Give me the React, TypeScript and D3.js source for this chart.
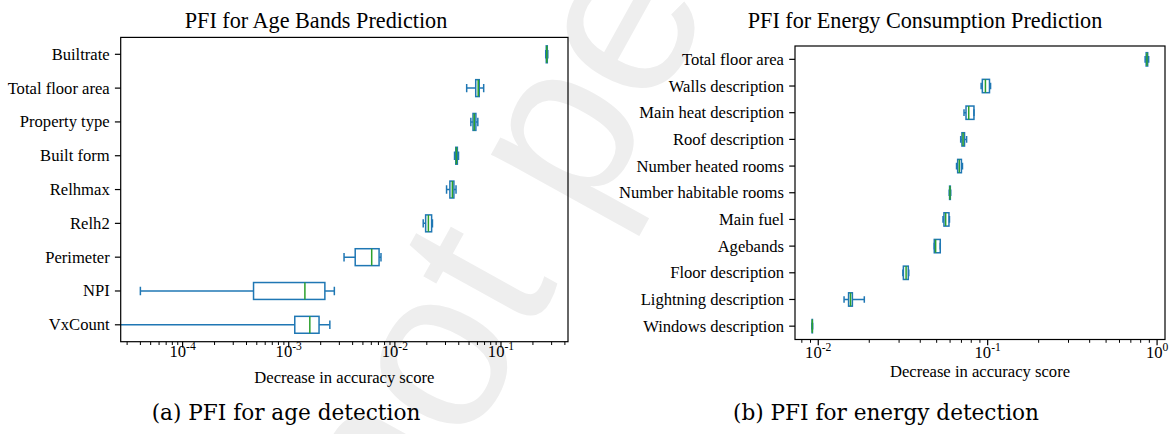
import { useEffect, useRef } from "react";
import * as d3 from "d3";

const WIDTH = 1170;
const HEIGHT = 434;
const BOX_COLOR = "#1f77b4";
const MEDIAN_COLOR = "#2ca02c";
const SERIF = "'Liberation Serif', 'Times New Roman', serif";

// (a) age bands: box stats per feature (low whisker, q1, median, q3, high whisker)
const AGE_FEATURES = ["Builtrate", "Total floor area", "Property type", "Built form", "Relhmax", "Relh2", "Perimeter", "NPI", "VxCount"];
const AGE_LOW = [0.264, 0.0475, 0.052, 0.0365, 0.0307, 0.0185, 0.00332, 0.00004, 0.000001];
const AGE_Q1 = [0.267, 0.0578, 0.0545, 0.0375, 0.033, 0.0195, 0.00423, 0.000466, 0.00114];
const AGE_MED = [0.27, 0.061, 0.056, 0.038, 0.0348, 0.0207, 0.00605, 0.00142, 0.00158];
const AGE_Q3 = [0.273, 0.0624, 0.058, 0.0388, 0.036, 0.0222, 0.0071, 0.00219, 0.00193];
const AGE_HIGH = [0.276, 0.0687, 0.0605, 0.0398, 0.0377, 0.0226, 0.0074, 0.00269, 0.00244];
const AGE_DOMAIN = [2.61e-5, 0.428];

// (b) energy consumption
const ENERGY_FEATURES = [
  "Total floor area", "Walls description", "Main heat description", "Roof description",
  "Number heated rooms", "Number habitable rooms", "Main fuel", "Agebands",
  "Floor description", "Lightning description", "Windows description",
];
const ENERGY_LOW = [0.85, 0.0915, 0.0725, 0.0693, 0.0655, 0.0593, 0.0545, 0.0484, 0.0316, 0.0142, 0.00918];
const ENERGY_Q1 = [0.862, 0.093, 0.0745, 0.0705, 0.0665, 0.0596, 0.0552, 0.0484, 0.0318, 0.0151, 0.0092];
const ENERGY_MED = [0.871, 0.097, 0.0773, 0.0716, 0.068, 0.0599, 0.0565, 0.0493, 0.033, 0.0155, 0.00922];
const ENERGY_Q3 = [0.88, 0.1025, 0.083, 0.073, 0.07, 0.0602, 0.0591, 0.0525, 0.034, 0.0159, 0.00924];
const ENERGY_HIGH = [0.892, 0.104, 0.083, 0.0751, 0.071, 0.0605, 0.0595, 0.0525, 0.0342, 0.0187, 0.00926];
const ENERGY_DOMAIN = [0.00729, 1.1136];

interface Panel {
  id: string;
  title: string;
  caption: string;
  features: string[];
  low: number[];
  q1: number[];
  med: number[];
  q3: number[];
  high: number[];
  domain: number[];
  left: number;
  right: number;
  top: number;
  bottom: number;
  titleX: number;
  tickLabelY: number;
  xlabelY: number;
  captionX: number;
}

const PANELS: Panel[] = [
  {
    id: "a", title: "PFI for Age Bands Prediction", caption: "(a) PFI for age detection",
    features: AGE_FEATURES, low: AGE_LOW, q1: AGE_Q1, med: AGE_MED, q3: AGE_Q3, high: AGE_HIGH,
    domain: AGE_DOMAIN,
    left: 120.7, right: 568, top: 37.4, bottom: 341.7,
    titleX: 316, tickLabelY: 357, xlabelY: 383, captionX: 286,
  },
  {
    id: "b", title: "PFI for Energy Consumption Prediction", caption: "(b) PFI for energy detection",
    features: ENERGY_FEATURES, low: ENERGY_LOW, q1: ENERGY_Q1, med: ENERGY_MED, q3: ENERGY_Q3, high: ENERGY_HIGH,
    domain: ENERGY_DOMAIN,
    left: 795, right: 1165, top: 46, bottom: 339.5,
    titleX: 925, tickLabelY: 358, xlabelY: 377, captionX: 886,
  },
];

function drawPanel(svg: d3.Selection<SVGSVGElement, unknown, null, undefined>, p: Panel) {
  const x = d3.scaleLog().domain(p.domain).range([p.left, p.right]);
  const y = d3.scalePoint().domain(p.features).range([p.top, p.bottom]).padding(0.5);
  const step = y.step();
  const boxH = step * 0.5;
  const capH = step * 0.25;

  svg.append("clipPath").attr("id", `clip-${p.id}`)
    .append("rect")
    .attr("x", p.left).attr("y", p.top)
    .attr("width", p.right - p.left).attr("height", p.bottom - p.top);

  const g = svg.append("g").attr("clip-path", `url(#clip-${p.id})`);
  const rows = p.features.map((f, i) => ({
    f, low: p.low[i], q1: p.q1[i], med: p.med[i], q3: p.q3[i], high: p.high[i],
  }));

  const row = g.selectAll("g").data(rows).join("g")
    .attr("transform", (d) => `translate(0,${y(d.f)})`);

  // whiskers
  row.append("line")
    .attr("x1", (d) => x(d.low)).attr("x2", (d) => x(d.q1))
    .attr("stroke", BOX_COLOR).attr("stroke-width", 1.5);
  row.append("line")
    .attr("x1", (d) => x(d.q3)).attr("x2", (d) => x(d.high))
    .attr("stroke", BOX_COLOR).attr("stroke-width", 1.5);
  // caps
  row.append("line")
    .attr("x1", (d) => x(d.low)).attr("x2", (d) => x(d.low))
    .attr("y1", -capH / 2).attr("y2", capH / 2)
    .attr("stroke", BOX_COLOR).attr("stroke-width", 1.5);
  row.append("line")
    .attr("x1", (d) => x(d.high)).attr("x2", (d) => x(d.high))
    .attr("y1", -capH / 2).attr("y2", capH / 2)
    .attr("stroke", BOX_COLOR).attr("stroke-width", 1.5);
  // box
  row.append("rect")
    .attr("x", (d) => x(d.q1)).attr("y", -boxH / 2)
    .attr("width", (d) => x(d.q3) - x(d.q1)).attr("height", boxH)
    .attr("fill", "none").attr("stroke", BOX_COLOR).attr("stroke-width", 1.5);
  // median
  row.append("line")
    .attr("x1", (d) => x(d.med)).attr("x2", (d) => x(d.med))
    .attr("y1", -boxH / 2).attr("y2", boxH / 2)
    .attr("stroke", MEDIAN_COLOR).attr("stroke-width", 1.5);

  // frame
  svg.append("rect")
    .attr("x", p.left).attr("y", p.top)
    .attr("width", p.right - p.left).attr("height", p.bottom - p.top)
    .attr("fill", "none").attr("stroke", "#000").attr("stroke-width", 1.2);

  // x ticks (log: majors at decades, minors between)
  const ticks = x.ticks();
  const isMajor = (v: number) => Math.abs(Math.log10(v) - Math.round(Math.log10(v))) < 1e-9;
  svg.append("g").selectAll("line").data(ticks).join("line")
    .attr("x1", (d) => x(d)).attr("x2", (d) => x(d))
    .attr("y1", p.bottom).attr("y2", (d) => p.bottom + (isMajor(d) ? 5.8 : 3.3))
    .attr("stroke", "#000").attr("stroke-width", (d) => (isMajor(d) ? 1.2 : 1));

  const labels = svg.append("g").selectAll("text").data(ticks.filter(isMajor)).join("text")
    .attr("x", (d) => x(d)).attr("y", p.tickLabelY)
    .attr("text-anchor", "middle")
    .style("font-family", SERIF).style("font-size", "16.6px").style("fill", "#000");
  labels.append("tspan").text("10");
  labels.append("tspan").attr("dy", -7).style("font-size", "11.6px")
    .text((d) => String(Math.round(Math.log10(d))));

  // y ticks and labels
  svg.append("g").selectAll("line").data(p.features).join("line")
    .attr("x1", p.left - 5.8).attr("x2", p.left)
    .attr("y1", (d) => y(d)!).attr("y2", (d) => y(d)!)
    .attr("stroke", "#000").attr("stroke-width", 1.2);
  svg.append("g").selectAll("text").data(p.features).join("text")
    .attr("x", p.left - 11).attr("y", (d) => y(d)!)
    .attr("dy", "0.33em").attr("text-anchor", "end")
    .style("font-family", SERIF).style("font-size", "16.6px").style("fill", "#000")
    .text((d) => d);

  // title, axis label, caption
  svg.append("text")
    .attr("x", p.titleX).attr("y", 28).attr("text-anchor", "middle")
    .style("font-family", SERIF).style("font-size", "22.2px").style("fill", "#000")
    .text(p.title);
  svg.append("text")
    .attr("x", (p.left + p.right) / 2).attr("y", p.xlabelY).attr("text-anchor", "middle")
    .style("font-family", SERIF).style("font-size", "16.6px").style("fill", "#000")
    .text("Decrease in accuracy score");
  svg.append("text")
    .attr("x", p.captionX).attr("y", 420).attr("text-anchor", "middle")
    .style("font-family", "'DejaVu Serif', serif").style("font-size", "21.6px").style("fill", "#000")
    .text(p.caption);
}

export default function App() {
  const svgRef = useRef<SVGSVGElement>(null);

  useEffect(() => {
    if (!svgRef.current) return;
    const svg = d3.select(svgRef.current);
    svg.selectAll("*").remove();

    svg.append("rect").attr("width", WIDTH).attr("height", HEIGHT).attr("fill", "#fff");

    // faint preprint watermark behind everything
    svg.append("text")
      .attr("transform", "translate(404,562) rotate(-61)")
      .style("font-family", "'Liberation Sans', Arial, sans-serif")
      .style("font-size", "230px")
      .style("fill", "#eeeeee")
      .text("not peer reviewed");

    PANELS.forEach((p) => drawPanel(svg, p));
  }, []);

  return (
    <svg
      ref={svgRef}
      width={WIDTH}
      height={HEIGHT}
      style={{ position: "absolute", left: 0, top: 0, background: "#fff" }}
    />
  );
}
